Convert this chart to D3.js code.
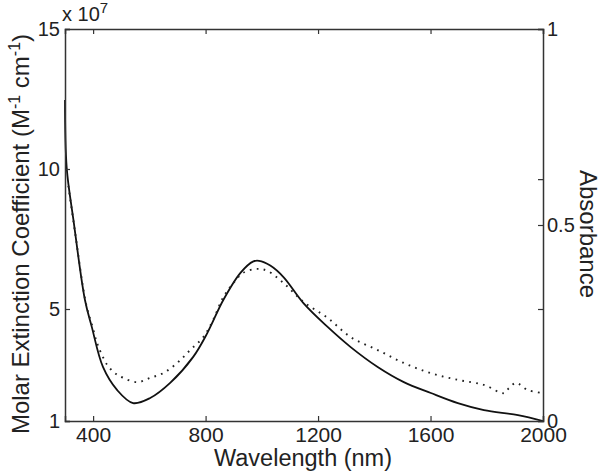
<!DOCTYPE html>
<html><head><meta charset="utf-8">
<script src="https://cdn.jsdelivr.net/npm/d3@7"></script>
<style>body{margin:0;background:#fff}svg{display:block}text{font-family:"Liberation Sans",Arial,sans-serif;fill:#222}</style>
</head><body><div id="chart"></div>
<script>
// Molar extinction coefficient (x 1e7 M^-1 cm^-1), left axis
const extWavelength = [300, 306, 330, 371, 395, 435, 485, 542, 603, 674, 756, 806, 863, 924, 970, 990, 1030, 1077, 1148, 1234, 1316, 1412, 1505, 1601, 1697, 1790, 1911, 2000];
const extValue      = [12.46, 10.05, 8.18, 5.32, 4.37, 2.93, 2.11, 1.64, 1.82, 2.36, 3.29, 4.14, 5.32, 6.29, 6.70, 6.72, 6.55, 6.14, 5.21, 4.36, 3.64, 2.93, 2.39, 2.0, 1.64, 1.39, 1.21, 1.0];
// Absorbance, right axis
const absWavelength = [312, 336, 375, 396, 414, 435, 453, 478, 507, 557, 603, 649, 699, 745, 792, 827, 863, 899, 934, 984, 1020, 1077, 1148, 1234, 1316, 1412, 1505, 1601, 1697, 1790, 1861, 1879, 1904, 1946, 2000];
const absValue      = [0.600, 0.480, 0.298, 0.245, 0.199, 0.163, 0.140, 0.122, 0.110, 0.099, 0.110, 0.122, 0.148, 0.181, 0.214, 0.258, 0.316, 0.352, 0.378, 0.388, 0.383, 0.352, 0.304, 0.263, 0.214, 0.181, 0.148, 0.122, 0.105, 0.092, 0.071, 0.084, 0.097, 0.079, 0.071];
const xTicks = [400, 800, 1200, 1600, 2000];
const leftTicks = [1, 5, 10, 15];
const rightTicks = [0, 0.5, 1];
const rightMinorTicks = [0.2857, 0.617];

const W = 601, H = 474;
const m = {l: 65, r: 543, t: 29, b: 421};
const svg = d3.select("#chart").append("svg").attr("width", W).attr("height", H);
const x = d3.scaleLinear().domain([300, 2000]).range([m.l, m.r]);
const yL = d3.scaleLinear().domain([1, 15]).range([m.b, m.t]);
const yR = d3.scaleLinear().domain([0, 1]).range([m.b, m.t]);

const axisColor = "#333";
const fs = 21;

// Curves
const extData = extWavelength.map((w, i) => [w, extValue[i]]);
const absData = absWavelength.map((w, i) => [w, absValue[i]]);
svg.append("path").datum(extData)
  .attr("d", d3.line().x(d => x(d[0])).y(d => yL(d[1])).curve(d3.curveCatmullRom.alpha(0.5)))
  .attr("fill", "none").attr("stroke", "#111").attr("stroke-width", 1.8);
svg.append("path").datum(absData)
  .attr("d", d3.line().x(d => x(d[0])).y(d => yR(d[1])).curve(d3.curveCatmullRom.alpha(0.5)))
  .attr("fill", "none").attr("stroke", "#222").attr("stroke-width", 1.9)
  .attr("stroke-dasharray", "1.7,5.3");

// Axes
const gBottom = svg.append("g").attr("transform", `translate(0,${m.b})`)
  .call(d3.axisBottom(x).tickValues(xTicks).tickSize(-5).tickPadding(6).tickFormat(d3.format("d")));
const gTop = svg.append("g").attr("transform", `translate(0,${m.t})`)
  .call(d3.axisTop(x).tickValues(xTicks).tickSize(-5).tickFormat(""));
const gLeft = svg.append("g").attr("transform", `translate(${m.l},0)`)
  .call(d3.axisLeft(yL).tickValues(leftTicks).tickSize(-5).tickPadding(5).tickFormat(d3.format("d")));
const gRight = svg.append("g").attr("transform", `translate(${m.r},0)`)
  .call(d3.axisRight(yR).tickValues(rightTicks.concat(rightMinorTicks)).tickSize(-5).tickPadding(4)
    .tickFormat(d => rightTicks.includes(d) ? d3.format("")(d) : ""));
[gBottom, gTop, gLeft, gRight].forEach(g => {
  g.select(".domain").attr("stroke", axisColor).attr("stroke-width", 1.5);
  g.selectAll(".tick line").attr("stroke", axisColor).attr("stroke-width", 1.2);
  g.selectAll("text").attr("font-size", fs).attr("fill", "#222")
    .style("font-family", '"Liberation Sans",Arial,sans-serif');
});
gLeft.selectAll("text").attr("font-size", 20);
gRight.selectAll("text").attr("font-size", 20);

// Exponent label
const ex = svg.append("text").attr("x", m.l - 3).attr("y", 21).attr("font-size", 20);
ex.append("tspan").text("x 10");
ex.append("tspan").attr("dy", -8).attr("font-size", 15).text("7");

// Axis titles
svg.append("text").attr("x", 303).attr("y", 466).attr("text-anchor", "middle")
  .attr("font-size", 23.5).text("Wavelength (nm)");
const yl = svg.append("text").attr("transform", "translate(29,234) rotate(-90)")
  .attr("text-anchor", "middle").attr("font-size", 24);
yl.append("tspan").text("Molar Extinction Coefficient (M");
yl.append("tspan").attr("dy", -9).attr("font-size", 16).text("-1");
yl.append("tspan").attr("dy", 9).text(" cm");
yl.append("tspan").attr("dy", -9).attr("font-size", 16).text("-1");
yl.append("tspan").attr("dy", 9).text(")");
svg.append("text").attr("transform", "translate(580,234) rotate(90)")
  .attr("text-anchor", "middle").attr("font-size", 24).text("Absorbance");
</script></body></html>
